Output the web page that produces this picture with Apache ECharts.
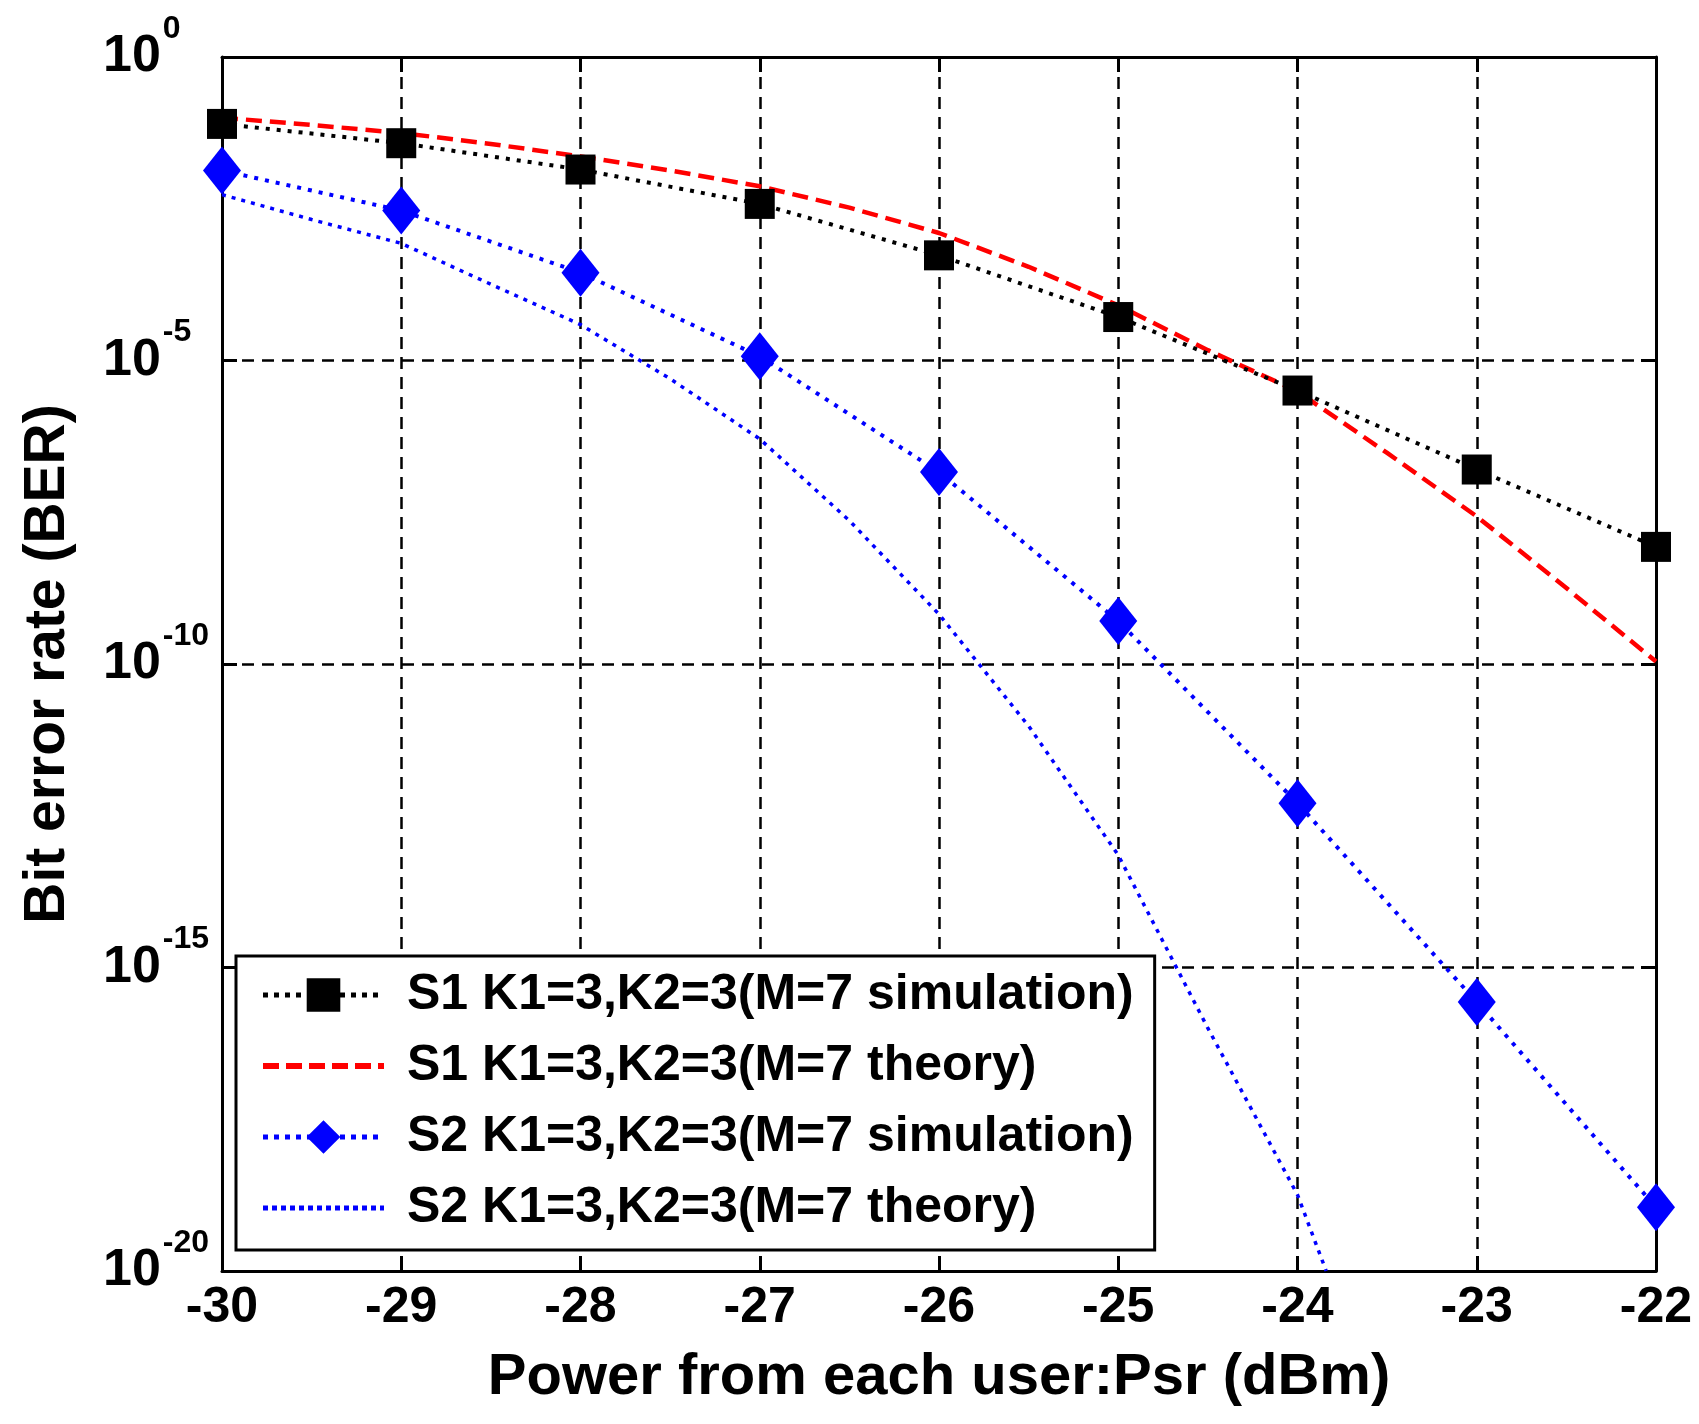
<!DOCTYPE html>
<html>
<head>
<meta charset="utf-8">
<title>BER vs Psr</title>
<script src="https://cdn.jsdelivr.net/npm/echarts@6.0.0/dist/echarts.min.js"></script>
<style>
  html, body { margin: 0; padding: 0; background: #fff; }
  #chart { width: 1699px; height: 1424px; }
</style>
</head>
<body>
<div id="chart"></div>
<script>
// power per user (dBm)
var psr = [-30, -29, -28, -27, -26, -25, -24, -23, -22];
var s1Sim = [7.9e-2, 3.8e-2, 1.4e-2, 3.8e-3, 5.4e-4, 5.2e-5, 3.2e-6, 1.6e-7, 8.5e-9];
var s2Sim = [1.35e-2, 2.95e-3, 2.8e-4, 1.17e-5, 1.45e-7, 5.1e-10, 5.1e-13, 2.7e-16, 1.12e-19];

// theory curves, read at half dBm steps
var psrFine = [-30, -29.5, -29, -28.5, -28, -27.5, -27, -26.5, -26, -25.5, -25, -24.5, -24, -23.5, -23, -22.5, -22];
var s1Theory = [1.0e-1, 7.6e-2, 5.6e-2, 3.7e-2, 2.3e-2, 1.35e-2, 7.4e-3, 3.3e-3, 1.26e-3, 3.5e-4, 8.1e-5, 1.48e-5, 3.1e-6, 3.0e-7, 2.7e-8, 1.78e-9, 1.1e-10];
var psrS2Theory = [-30, -29.5, -29, -28.5, -28, -27.5, -27, -26.5, -26, -25.5, -25, -24.5, -24, -23.84];
var s2Theory = [5.4e-3, 2.1e-3, 8.5e-4, 1.8e-4, 3.9e-5, 5.0e-6, 5.1e-7, 2.3e-8, 6.6e-10, 9.5e-12, 7.1e-14, 1.0e-16, 1.8e-19, 1.0e-20];

var names = [
    'S1 K1=3,K2=3(M=7 simulation)',
    'S1 K1=3,K2=3(M=7 theory)',
    'S2 K1=3,K2=3(M=7 simulation)',
    'S2 K1=3,K2=3(M=7 theory)'
];

var FONT = 'Liberation Sans, Arial, sans-serif';

function pairs(xs, ys) {
    return xs.map(function (x, i) { return [x, ys[i]]; });
}

function drawChart() {
    var gridDash = { color: '#000', width: 2.5, type: [12, 8] };
    var axisBox = { show: true, onZero: false, lineStyle: { color: '#000', width: 3 } };
    var inTicks = { show: true, inside: true, length: 15, lineStyle: { color: '#000', width: 3 } };

    var option = {
        backgroundColor: '#fff',
        animation: false,
        textStyle: { fontFamily: FONT, fontWeight: 'bold', color: '#000' },
        grid: { left: 222, right: 43, top: 57, bottom: 153, containLabel: false },
        legend: {
            orient: 'vertical',
            left: 236,
            top: 956,
            padding: [14, 21, 17, 24],
            backgroundColor: '#fff',
            borderColor: '#000',
            borderWidth: 3,
            itemWidth: 121,
            itemHeight: 42,
            itemGap: 21,
            selectedMode: false,
            // theory curves have no marker, hide it in the legend too
            data: [
                { name: names[0], lineStyle: { width: 5, type: [5, 6] } },
                { name: names[1], itemStyle: { opacity: 0 }, lineStyle: { width: 6, type: [16, 7] } },
                { name: names[2], lineStyle: { width: 5, type: [5, 6] } },
                { name: names[3], itemStyle: { opacity: 0 }, lineStyle: { width: 5, type: [5, 4] } }
            ],
            textStyle: { fontFamily: FONT, fontWeight: 'bold', fontSize: 50, lineHeight: 50, color: '#000', padding: [0, 0, 0, 18] }
        },
        xAxis: [{
            type: 'value',
            min: -30,
            max: -22,
            interval: 1,
            position: 'bottom',
            name: 'Power from each user:Psr (dBm)',
            nameLocation: 'middle',
            nameGap: 78,
            nameTextStyle: { fontFamily: FONT, fontWeight: 'bold', fontSize: 58, color: '#000' },
            axisLine: axisBox,
            axisTick: inTicks,
            axisLabel: { margin: 12, fontFamily: FONT, fontWeight: 'bold', fontSize: 50, color: '#000' },
            splitLine: { show: true, lineStyle: gridDash }
        }, {
            type: 'value',
            min: -30,
            max: -22,
            interval: 1,
            position: 'top',
            axisLine: axisBox,
            axisTick: inTicks,
            axisLabel: { show: false },
            splitLine: { show: false }
        }],
        yAxis: [{
            type: 'log',
            logBase: 10,
            min: 1e-20,
            max: 1,
            interval: 5,
            position: 'left',
            name: 'Bit error rate (BER)',
            nameLocation: 'middle',
            nameGap: 145,
            nameTextStyle: { fontFamily: FONT, fontWeight: 'bold', fontSize: 57, color: '#000' },
            axisLine: axisBox,
            axisTick: inTicks,
            minorTick: { show: false },
            axisLabel: {
                margin: 119,
                align: 'left',
                formatter: function (v) {
                    var e = Math.round(Math.log(v) / Math.LN10);
                    return '{b|10}{s|' + e + '}';
                },
                rich: {
                    b: { fontFamily: FONT, fontWeight: 'bold', fontSize: 52, color: '#000' },
                    s: { fontFamily: FONT, fontWeight: 'bold', fontSize: 32, color: '#000', padding: [0, 0, 56, 2] }
                }
            },
            splitLine: { show: true, lineStyle: gridDash }
        }, {
            type: 'log',
            logBase: 10,
            min: 1e-20,
            max: 1,
            interval: 5,
            position: 'right',
            axisLine: axisBox,
            axisTick: inTicks,
            axisLabel: { show: false },
            splitLine: { show: false }
        }],
        series: [{
            name: names[0],
            type: 'line',
            data: pairs(psr, s1Sim),
            symbol: 'rect',
            symbolSize: 30,
            itemStyle: { color: '#000' },
            lineStyle: { color: '#000', width: 4, type: [4, 7] },
            z: 4
        }, {
            name: names[1],
            type: 'line',
            data: pairs(psrFine, s1Theory),
            symbol: 'none',
            itemStyle: { color: '#ff0000' },
            lineStyle: { color: '#ff0000', width: 4.5, type: [16, 8] },
            z: 3
        }, {
            name: names[2],
            type: 'line',
            data: pairs(psr, s2Sim),
            symbol: 'diamond',
            symbolSize: [38, 48],
            itemStyle: { color: '#0000ff' },
            lineStyle: { color: '#0000ff', width: 4, type: [4, 7] },
            z: 4
        }, {
            name: names[3],
            type: 'line',
            data: pairs(psrS2Theory, s2Theory),
            symbol: 'none',
            itemStyle: { color: '#0000ff' },
            lineStyle: { color: '#0000ff', width: 3.5, type: [4, 6] },
            z: 3
        }]
    };

    var myChart = echarts.init(document.getElementById('chart'));
    myChart.setOption(option, true);
}

drawChart();
</script>
</body>
</html>
